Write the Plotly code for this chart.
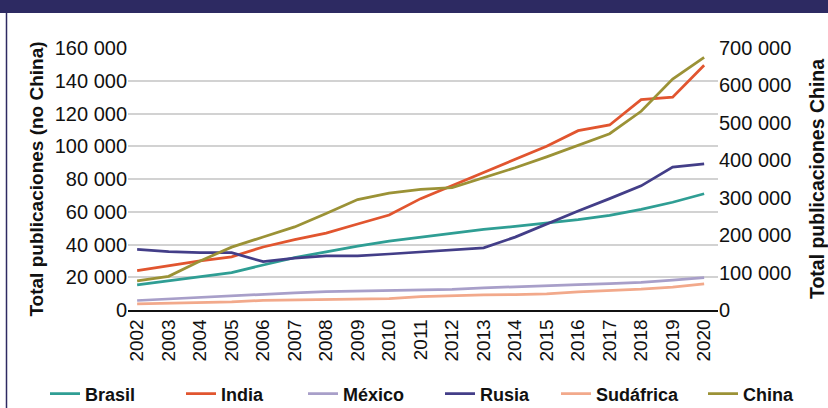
import plotly.graph_objects as go

years = [str(y) for y in range(2002, 2021)]
brasil = [15300, 17800, 20200, 22800, 27500, 32000, 35500, 39000, 42000, 44500, 47000, 49300, 51000, 53000, 55200, 57800, 61500, 65800, 71000]
india = [24000, 27000, 30000, 32500, 38500, 43000, 47000, 52500, 58000, 68000, 76000, 84000, 92000, 100000, 109500, 113000, 128500, 130000, 149500]
mexico = [5800, 6800, 7600, 8500, 9500, 10500, 11200, 11600, 11900, 12200, 12600, 13500, 14300, 15000, 15500, 16100, 16800, 18200, 19800]
rusia = [37000, 35600, 35000, 35000, 29500, 31700, 33000, 33000, 34200, 35600, 36900, 38000, 44500, 52500, 60500, 68000, 75800, 87300, 89300]
sudafrica = [3700, 4000, 4500, 5000, 5900, 6200, 6300, 6400, 6900, 8200, 8800, 9200, 9400, 9900, 11000, 11800, 12700, 14000, 16000]
china = [78000, 90000, 131000, 168000, 195000, 222000, 258000, 295000, 312000, 322000, 327000, 353000, 380000, 409000, 440000, 471000, 531000, 617000, 675000]

names = ["Brasil", "India", "México", "Rusia", "Sudáfrica", "China"]
series = [brasil, india, mexico, rusia, sudafrica, china]
colors = ["#2f9e94", "#e1552f", "#a89fc9", "#433e88", "#f2a98b", "#9b9236"]
axes = ["y", "y", "y", "y", "y", "y2"]
legend_x_px = [45, 181, 303, 440, 556, 703]

W, H = 828, 408
ML, MR, MT, MB = 128, 110, 48, 98
PW, PH = W - ML - MR, H - MT - MB

narrow = "Liberation Sans Narrow, Arial Narrow, Liberation Sans, Arial, sans-serif"
bold = "Liberation Sans, Arial, sans-serif"

fig = go.Figure()
for i, (n, s, c, ax) in enumerate(zip(names, series, colors, axes)):
    fig.add_trace(go.Scatter(
        x=years, y=s, name=f"<b>{n}</b>", mode="lines", yaxis=ax,
        line=dict(color=c, width=2.75),
        legend="legend" if i == 0 else f"legend{i+1}",
    ))

def px_x(p):
    return (p - ML) / PW

def px_y(p):
    return (H - MB - p) / PH

legends = {}
for i, lx in enumerate(legend_x_px):
    key = "legend" if i == 0 else f"legend{i+1}"
    legends[key] = dict(
        x=lx / W, y=1 - 394 / H, xref="container", yref="container",
        xanchor="left", yanchor="middle", orientation="h",
        font=dict(family=bold, size=18, color="#111111"),
        bgcolor="rgba(0,0,0,0)", borderwidth=0, itemwidth=30,
    )

fig.update_layout(
    width=W, height=H,
    margin=dict(l=ML, r=MR, t=MT, b=MB),
    paper_bgcolor="white", plot_bgcolor="white",
    separators=", ",
    showlegend=True,
    xaxis=dict(
        type="category", range=[-0.29, 18.44], tickangle=-90,
        showgrid=False, showline=True, linecolor="#111111", linewidth=1.5,
        ticks="", tickfont=dict(family=narrow, size=19, color="#111111"),
        automargin=False,
    ),
    yaxis=dict(
        range=[0, 160000], dtick=20000, tickformat=",d",
        showgrid=True, gridcolor="#d2d2d2", gridwidth=1.5,
        zeroline=False, showline=False, ticks="", automargin=False,
        tickfont=dict(family=narrow, size=20, color="#111111"),
        title=dict(text="<b>Total publicaciones (no China)</b>",
                   font=dict(family=bold, size=19, color="#111111"), standoff=6),
    ),
    yaxis2=dict(
        range=[0, 700000], dtick=100000, tickformat=",d", overlaying="y", side="right",
        showgrid=False, zeroline=False, showline=False, ticks="", automargin=False,
        tickfont=dict(family=narrow, size=20, color="#111111"),
        title=dict(text="<b>Total publicaciones China</b>",
                   font=dict(family=bold, size=19.5, color="#111111"), standoff=20),
    ),
    shapes=[
        dict(type="rect", xref="paper", yref="paper",
             x0=px_x(0), x1=px_x(W), y0=px_y(13), y1=px_y(0),
             fillcolor="#2d2a62", line=dict(width=0), layer="above"),
        dict(type="line", xref="paper", yref="paper",
             x0=px_x(6.5), x1=px_x(6.5), y0=px_y(H), y1=px_y(12),
             line=dict(color="#2d2a62", width=1.5)),
    ],
    **legends,
)

fig.write_html("out.html")
